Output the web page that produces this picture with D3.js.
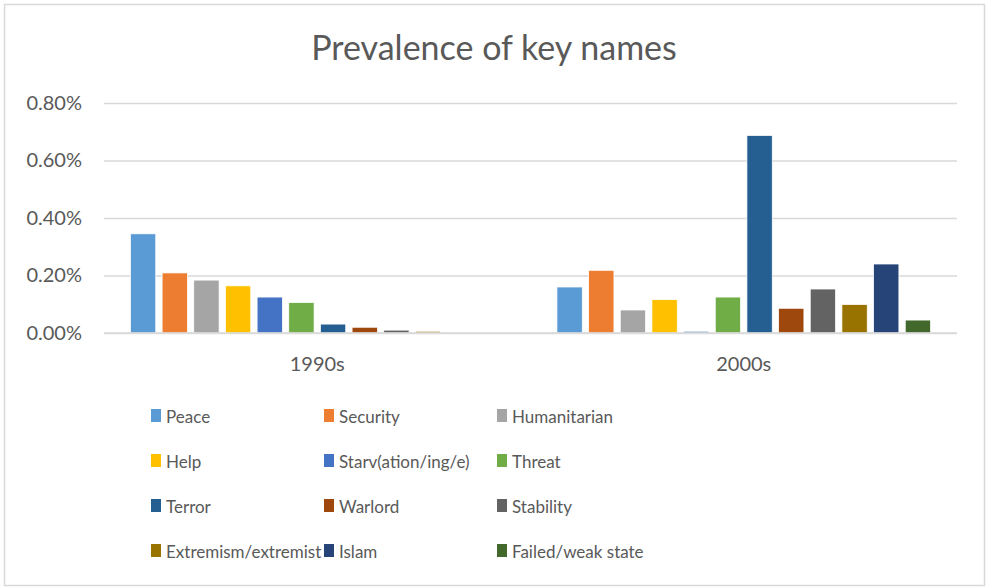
<!DOCTYPE html>
<html>
<head>
<meta charset="utf-8">
<script src="https://cdn.jsdelivr.net/npm/d3@7"></script>
<style>
  body { margin: 0; background: #fff; }
  svg text { font-family: Lato, "Noto Sans", sans-serif; fill: #595959; }
</style>
</head>
<body>
<svg id="chart"></svg>
<script>
// decades on the x axis
const decades = ['1990s', '2000s'];

// key names (series) and their colours
const keyNames = ['Peace', 'Security', 'Humanitarian', 'Help', 'Starv(ation/ing/e)', 'Threat',
  'Terror', 'Warlord', 'Stability', 'Extremism/extremist', 'Islam', 'Failed/weak state'];
const keyColors = ['#5B9BD5', '#ED7D31', '#A5A5A5', '#FFC000', '#4472C4', '#70AD47',
  '#255E91', '#9E480E', '#636363', '#997300', '#264478', '#43682B'];

// share of text (%) per key name
const values1990s = [0.345, 0.209, 0.184, 0.164, 0.125, 0.106, 0.031, 0.020, 0.010, 0.006, 0, 0];
const values2000s = [0.160, 0.218, 0.080, 0.116, 0.006, 0.125, 0.687, 0.086, 0.153, 0.099, 0.240, 0.045];

const yTicks = [0, 0.2, 0.4, 0.6, 0.8];

const W = 986, H = 588;
const margin = {top: 103, right: 29, bottom: 255, left: 104};
const width = W - margin.left - margin.right;
const height = H - margin.top - margin.bottom;

const svg = d3.select('#chart').attr('width', W).attr('height', H);

// chart border
svg.append('rect')
  .attr('x', 4.5).attr('y', 4.5)
  .attr('width', 980).attr('height', 581)
  .attr('fill', '#fff')
  .attr('stroke', '#d9d9d9')
  .attr('stroke-width', 1.5);

svg.append('text')
  .attr('x', 494).attr('y', 60)
  .attr('text-anchor', 'middle')
  .style('font-size', '34px')
  .text('Prevalence of key names');

const chart = svg.append('g')
  .attr('transform', `translate(${margin.left},${margin.top})`);

const x0 = d3.scaleBand().domain(decades).range([0, width]);
const groupPad = x0.bandwidth() * 0.062;
const x1 = d3.scaleBand().domain(keyNames)
  .range([groupPad, x0.bandwidth() - groupPad])
  .paddingInner(0.2);
const y = d3.scaleLinear().domain([0, 0.8]).range([height, 0]);
const color = d3.scaleOrdinal().domain(keyNames).range(keyColors);

// gridlines + y labels
const yAxis = d3.axisLeft(y)
  .tickValues(yTicks)
  .tickSize(-width)
  .tickPadding(22)
  .tickFormat(d => d.toFixed(2) + '%');

chart.append('g')
  .attr('class', 'y-axis')
  .call(yAxis)
  .call(g => g.select('.domain').remove())
  .call(g => g.selectAll('.tick line').attr('stroke', '#d9d9d9').attr('stroke-width', 1.5))
  .call(g => g.selectAll('.tick text').style('font-size', '20px').attr('fill', '#595959'));

const data = decades.map((d, i) => ({
  decade: d,
  values: keyNames.map((k, j) => ({key: k, value: (i === 0 ? values1990s : values2000s)[j]}))
}));

chart.append('g')
  .selectAll('g')
  .data(data)
  .join('g')
  .attr('transform', d => `translate(${x0(d.decade)},0)`)
  .selectAll('rect')
  .data(d => d.values)
  .join('rect')
  .attr('x', d => x1(d.key))
  .attr('width', x1.bandwidth())
  .attr('y', d => y(d.value))
  .attr('height', d => height - y(d.value))
  .attr('fill', d => color(d.key))
  .attr('stroke', '#fff')
  .attr('stroke-width', 0.75);

// baseline (drawn over the bars)
chart.append('line')
  .attr('x1', 0).attr('x2', width)
  .attr('y1', height).attr('y2', height)
  .attr('stroke', '#d9d9d9')
  .attr('stroke-width', 1.5);

// x axis labels
const xAxis = d3.axisBottom(x0).tickSize(0).tickPadding(24);
chart.append('g')
  .attr('transform', `translate(0,${height})`)
  .call(xAxis)
  .call(g => g.select('.domain').remove())
  .call(g => g.selectAll('.tick text').style('font-size', '20px').attr('fill', '#595959'));

// legend: 3 columns x 4 rows
const legend = svg.append('g').attr('transform', 'translate(151,0)');
const item = legend.selectAll('g')
  .data(keyNames)
  .join('g')
  .attr('transform', (d, i) => `translate(${(i % 3) * 173},${417 + Math.floor(i / 3) * 45})`);

item.append('rect')
  .attr('x', 0).attr('y', -8)
  .attr('width', 10).attr('height', 13)
  .attr('fill', d => color(d));

item.append('text')
  .attr('x', 15).attr('y', 6)
  .style('font-size', '17px')
  .text(d => d);
</script>
</body>
</html>
